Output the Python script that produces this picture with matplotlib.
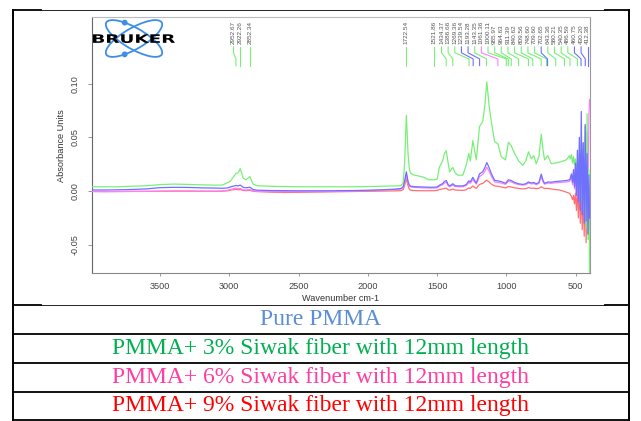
import numpy as np
import matplotlib
matplotlib.use("Agg")
import matplotlib.pyplot as plt
from matplotlib.patches import Ellipse, PathPatch, Circle
from matplotlib.lines import Line2D
from matplotlib.textpath import TextPath
from matplotlib.font_manager import FontProperties
from matplotlib.transforms import Affine2D, blended_transform_factory

# ---------------- data ----------------
wavenumber = [3996, 3900, 3800, 3700, 3600, 3500, 3400, 3300, 3200, 3100, 3050, 3010,
              2995, 2975, 2952, 2935, 2922, 2900, 2880, 2852, 2830, 2800, 2700, 2600,
              2500, 2400, 2300, 2200, 2100, 2000, 1900, 1800,
              1760, 1745, 1735, 1722, 1710, 1700, 1690, 1670, 1650, 1600, 1560, 1521,
              1500, 1483, 1460, 1447, 1434, 1420, 1410, 1386, 1370, 1350, 1314, 1290,
              1271, 1260, 1242, 1230, 1217, 1205, 1194, 1170, 1155, 1141, 1125, 1109,
              1085, 1061, 1037, 1006, 985, 964, 940, 911, 881, 860, 840, 820, 803, 784,
              765, 748, 735, 724, 700, 676, 650, 616, 590, 567, 545,
              538, 530, 522, 515, 508, 501, 494, 487, 480, 473, 466, 459, 452, 445,
              438, 431, 424, 417, 410, 404, 399]

green_3pct = [0.004, 0.004, 0.004, 0.0045, 0.005, 0.006, 0.0065, 0.0062, 0.0058, 0.0055, 0.0056, 0.008,
              0.009, 0.0125, 0.0165, 0.017, 0.021, 0.012, 0.0105, 0.0135, 0.0065, 0.005, 0.0045, 0.0042,
              0.004, 0.004, 0.004, 0.004, 0.004, 0.0042, 0.0045, 0.0048,
              0.005, 0.008, 0.025, 0.0705, 0.035, 0.02, 0.0165, 0.015, 0.0145, 0.013, 0.0105, 0.0105,
              0.011, 0.0225, 0.028, 0.035, 0.0375, 0.026, 0.018, 0.022, 0.017, 0.0148, 0.0148, 0.024,
              0.035, 0.028, 0.047, 0.038, 0.029, 0.045, 0.060, 0.065, 0.080, 0.1015, 0.080, 0.065,
              0.046, 0.044, 0.032, 0.029, 0.0455, 0.042, 0.035, 0.028, 0.024, 0.028, 0.0365, 0.030, 0.033, 0.0255,
              0.032, 0.053, 0.038, 0.029, 0.033, 0.0255, 0.026, 0.027, 0.028, 0.029, 0.033,
              0.030, 0.034, 0.026, 0.032, 0.024, 0.030, 0.018, 0.028, 0.010, 0.030, 0.000, 0.025, -0.010, 0.040,
              -0.020, 0.060, -0.035, 0.072, -0.045, 0.020, -0.078]

blue_pure = [0.001, 0.001, 0.0012, 0.0015, 0.002, 0.0032, 0.0035, 0.0034, 0.003, 0.0028, 0.0026, 0.003,
             0.0038, 0.0045, 0.0052, 0.0048, 0.0056, 0.0035, 0.003, 0.0036, 0.0015, 0.0008, 0.0005, 0.0004,
             0.0003, 0.0003, 0.0003, 0.0004, 0.0005, 0.0008, 0.0012, 0.0018,
             0.0025, 0.004, 0.009, 0.018, 0.009, 0.0055, 0.0045, 0.0042, 0.004, 0.0038, 0.0036, 0.0036,
             0.0038, 0.0055, 0.007, 0.0090, 0.0098, 0.006, 0.0048, 0.0068, 0.005, 0.0048, 0.0048, 0.006,
             0.0095, 0.0085, 0.0128, 0.0100, 0.0075, 0.0120, 0.0160, 0.0180, 0.0220, 0.0265, 0.0220, 0.0165,
             0.0100, 0.0095, 0.0088, 0.0072, 0.0105, 0.0098, 0.0080, 0.0068, 0.0062, 0.0068, 0.0085, 0.0075, 0.0080, 0.0068,
             0.0080, 0.0158, 0.0098, 0.0072, 0.0085, 0.0082, 0.0088, 0.0092, 0.0095, 0.0098, 0.0105,
             0.012, 0.016, 0.008, 0.020, 0.004, 0.026, -0.004, 0.038, -0.010, 0.050, -0.018, 0.074, -0.022, 0.045,
             -0.030, 0.062, -0.028, 0.035, -0.040, 0.015, -0.025]

pink_6pct = [-0.0005, -0.0006, -0.0004, -0.0003, -0.0002, 0.0, 0.0002, 0.0002, 0.0, 0.0, 0.0002, 0.0008,
             0.0015, 0.002, 0.0028, 0.0022, 0.0025, 0.0012, 0.001, 0.0015, 0.0002, -0.0002, -0.0004, -0.0005,
             -0.0005, -0.0004, -0.0003, -0.0002, 0.0, 0.0004, 0.0010, 0.0016,
             0.0018, 0.0032, 0.0075, 0.0155, 0.0075, 0.0045, 0.0038, 0.0035, 0.0033, 0.0030, 0.0028, 0.0028,
             0.0030, 0.0045, 0.0058, 0.0075, 0.0082, 0.0050, 0.0040, 0.0056, 0.0042, 0.0040, 0.0040, 0.0052,
             0.0080, 0.0072, 0.0108, 0.0085, 0.0065, 0.0100, 0.0135, 0.0155, 0.0185, 0.0222, 0.0185, 0.0140,
             0.0085, 0.0080, 0.0075, 0.0062, 0.0090, 0.0085, 0.0070, 0.0060, 0.0055, 0.0060, 0.0075, 0.0066, 0.0070, 0.0060,
             0.0070, 0.0135, 0.0085, 0.0064, 0.0074, 0.0072, 0.0076, 0.0080, 0.0082, 0.0085, 0.0090,
             0.010, 0.015, 0.006, 0.018, 0.002, 0.025, -0.006, 0.020, -0.004, 0.035, -0.012, 0.030, -0.018, 0.045,
             -0.022, 0.035, -0.030, 0.055, -0.015, 0.070, 0.085]

red_9pct = [-0.0003, -0.0004, -0.0004, -0.0003, -0.0003, -0.0002, -0.0001, -0.0001, -0.0002, -0.0002, -0.0001, 0.0003,
            0.0008, 0.0012, 0.0016, 0.0012, 0.0015, 0.0006, 0.0004, 0.0008, -0.0002, -0.0005, -0.0010, -0.0013,
            -0.0012, -0.0010, -0.0008, -0.0006, -0.0004, -0.0002, 0.0, 0.0002,
            0.0004, 0.0015, 0.005, 0.0118, 0.005, 0.0015, 0.0008, 0.0005, 0.0004, 0.0003, 0.0003, 0.0003,
            0.0006, 0.0015, 0.0020, 0.0025, 0.0028, 0.0012, 0.0008, 0.0018, 0.0010, 0.0008, 0.0006, 0.0012,
            0.0030, 0.0025, 0.0048, 0.0035, 0.0025, 0.0045, 0.0062, 0.0072, 0.0088, 0.0102, 0.0085, 0.0065,
            0.0048, 0.0045, 0.0038, 0.0030, 0.0042, 0.0038, 0.0030, 0.0025, 0.0020, 0.0022, 0.0032, 0.0026, 0.0028, 0.0022,
            0.0026, 0.0040, 0.0030, 0.0024, 0.0025, 0.0020, 0.0015, 0.0010, 0.0000, -0.0010, -0.0020,
            -0.003, -0.005, -0.008, -0.004, -0.012, -0.002, -0.018, 0.002, -0.025, 0.008, -0.030, 0.004, -0.036, 0.015,
            -0.042, 0.010, -0.048, 0.025, -0.040, 0.005, -0.035]

peak_labels_left = [2952.67, 2922.26, 2852.34]
peak_colors_left = ["g", "g", "g"]
peak_labels_right = [1722.54, 1521.86, 1434.37, 1386.66, 1269.36, 1239.54, 1193.28, 1143.35,
                     1061.36, 1000.11, 985.97, 964.63, 911.39, 840.62, 809.56, 748.60, 709.60,
                     702.65, 643.36, 580.21, 540.35, 486.59, 460.75, 430.20, 412.38]
peak_colors_right = ["g", "g", "g", "g", "g", "b", "b", "g", "p", "g", "g", "g", "g", "g", "g",
                     "g", "g", "b", "g", "g", "g", "g", "b", "b", "b"]

table_rows = ["Pure PMMA",
              "PMMA+ 3% Siwak fiber with 12mm length",
              "PMMA+ 6% Siwak fiber with 12mm length",
              "PMMA+ 9% Siwak fiber with 12mm length"]
table_colors = ["#5B8ED6", "#00B050", "#FF3FA0", "#FF0000"]

x_ticks = [3500, 3000, 2500, 2000, 1500, 1000, 500]
y_ticks = [-0.05, 0.00, 0.05, 0.10]
y_ticklabels = ["-0.05", "0.00", "0.05", "0.10"]

# ---------------- figure ----------------
W, H = 641, 421
fig = plt.figure(figsize=(W / 100, H / 100), dpi=100)
fig.patch.set_facecolor("white")
plt.rcParams["font.family"] = ["Liberation Sans", "DejaVu Sans"]


def fx(px):
    return px / W


def fy(py):
    return 1 - py / H


# main axes
L, R, T, B = 92, 590, 17.5, 273.3
ax = fig.add_axes([fx(L), fy(B), fx(R - L), (B - T) / H])

line_cols = {"g": "#78F078", "b": "#7070FF", "p": "#FF80FF", "r": "#FF7070"}
ax.plot(wavenumber, red_9pct, color=line_cols["r"], lw=0.9, zorder=3)
ax.plot(wavenumber, pink_6pct, color=line_cols["p"], lw=0.9, zorder=4)
ax.plot(wavenumber, green_3pct, color=line_cols["g"], lw=0.9, zorder=5)
ax.plot(wavenumber, blue_pure, color=line_cols["b"], lw=0.9, zorder=6)

ax.set_xlim(3992, 396)
ax.set_ylim(-0.0765, 0.1615)
ax.set_xticks(x_ticks)
ax.set_xticklabels([str(v) for v in x_ticks])
ax.set_yticks(y_ticks)
ax.set_yticklabels(y_ticklabels, rotation=90, va="center")

ax.tick_params(axis="x", length=2.2, width=0.6, color="#888888", labelsize=6.6,
               labelcolor="#444444", pad=4.0)
ax.tick_params(axis="y", length=3.0, width=0.6, color="#888888", labelsize=6.6,
               labelcolor="#444444", pad=6.0)
ax.set_xlabel("Wavenumber cm-1", fontsize=6.6, color="#333333", labelpad=2)
ax.set_ylabel("Absorbance Units", fontsize=6.6, color="#333333", labelpad=3)

ax.spines["left"].set_color("#666666")
ax.spines["bottom"].set_color("#888888")
ax.spines["top"].set_color("#BBBBBB")
ax.spines["right"].set_color("#999999")
for s in ax.spines.values():
    s.set_linewidth(0.8)

# peak labels
trans = blended_transform_factory(ax.transData, ax.transAxes)
d = 48.0


def place(group):
    pos = list(group)
    for i in range(len(pos) - 2, -1, -1):
        pos[i] = max(pos[i], pos[i + 1] + d)
    return pos


for peaks, cols in ((peak_labels_left, peak_colors_left), (peak_labels_right, peak_colors_right)):
    pos = place(peaks)
    for p, lp, c in zip(peaks, pos, cols):
        ax.plot([lp, lp, p, p], [0.885, 0.862, 0.838, 0.812], transform=trans,
                color=line_cols[c], lw=0.8, clip_on=False, zorder=2)
        ax.text(lp, 0.898, f"{p:.2f}", transform=trans, rotation=90, ha="center",
                va="bottom", fontsize=4.6, color="#555555")

# ---------------- logo ----------------
lx0, lx1, ly0, ly1 = 92, 182, 17.5, 60
axl = fig.add_axes([fx(lx0), fy(ly1), fx(lx1 - lx0), (ly1 - ly0) / H])
axl.set_xlim(lx0, lx1)
axl.set_ylim(ly1, ly0)
axl.axis("off")
cx, cy, a_, b_ = 134, 38.5, 32, 10.5
blue_logo = "#3D8FE6"
for ang in (30, -30):
    axl.add_patch(Ellipse((cx, cy), 2 * a_, 2 * b_, angle=ang, fill=False,
                          ec=blue_logo, lw=1.3))
    phi = np.deg2rad(ang)
    t = np.deg2rad(-120 if ang > 0 else 120)
    px = cx + a_ * np.cos(t) * np.cos(phi) - b_ * np.sin(t) * np.sin(phi)
    py = cy + a_ * np.cos(t) * np.sin(phi) + b_ * np.sin(t) * np.cos(phi)
    axl.add_patch(Circle((px, py), 2.2, color=blue_logo))
fp = FontProperties(family="DejaVu Sans", weight="bold")
tp = TextPath((0, 0), "BRUKER", size=1, prop=fp)
bb = tp.get_extents()
tr = Affine2D().translate(-bb.x0, -bb.y0).scale(82 / bb.width, -8.7 / bb.height).translate(93, 43)
axl.add_patch(PathPatch(tr.transform_path(tp), color="black", lw=0))

# ---------------- table frame ----------------
def hline(y, x0, x1, lw):
    fig.add_artist(Line2D([fx(x0), fx(x1)], [fy(y), fy(y)], color="black", lw=lw,
                          transform=fig.transFigure))


def vline(x, y0, y1, lw):
    fig.add_artist(Line2D([fx(x), fx(x)], [fy(y0), fy(y1)], color="black", lw=lw,
                          transform=fig.transFigure))


for yy in (10, 305):
    hline(yy, 41, 605, 0.6)
    hline(yy, 13, 41, 1.3)
    hline(yy, 605, 629, 1.3)
for yy in (334, 363, 391.5, 419.8):
    hline(yy, 13, 629, 1.3)
vline(13, 10, 420, 1.4)
vline(629, 10, 420, 1.4)

row_centers = [319.5, 348.5, 377.2, 405.7]
for txt, col, yc in zip(table_rows, table_colors, row_centers):
    fig.text(fx(321), fy(yc), txt, ha="center", va="center", color=col,
             fontsize=17, family=["Liberation Serif", "DejaVu Serif"])

fig.savefig("out.png", dpi=100, facecolor="white")
